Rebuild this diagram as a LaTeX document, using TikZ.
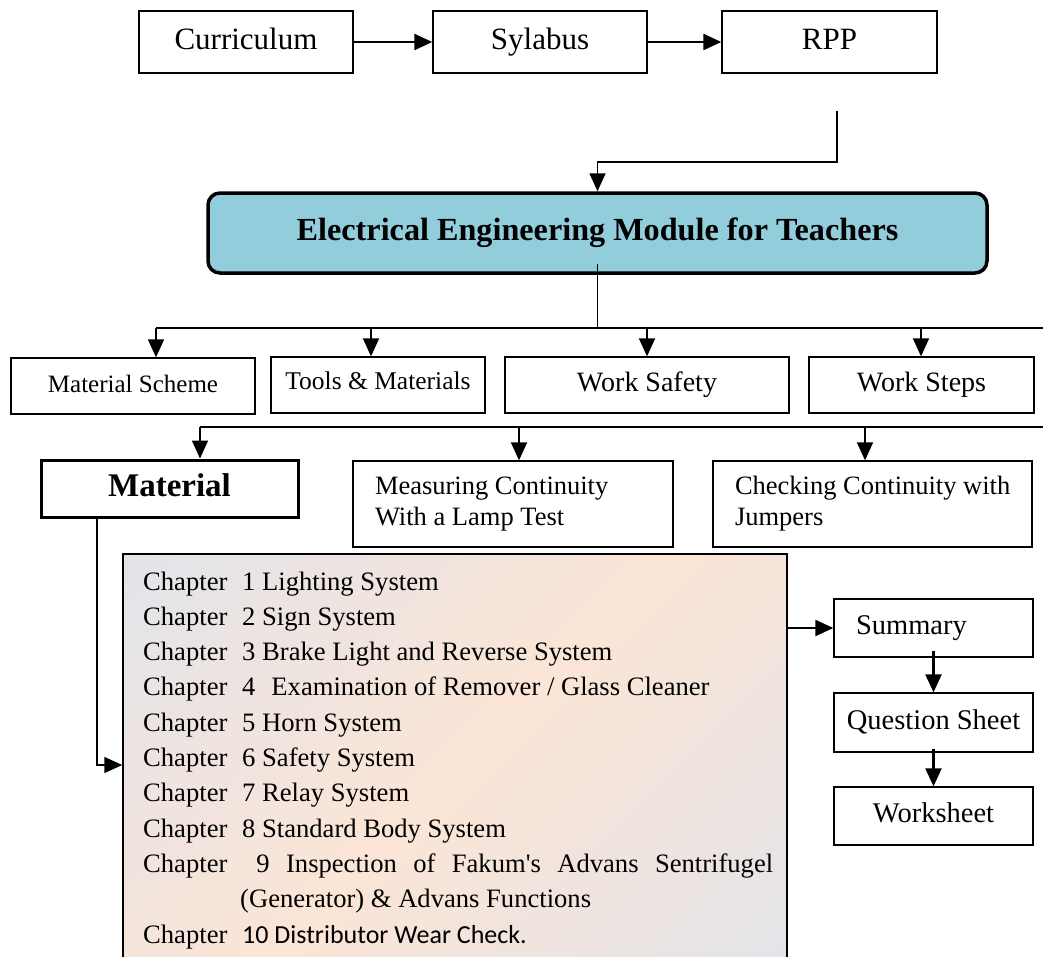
\documentclass[tikz,border=0pt]{standalone}
\usepackage{fontspec}
\setmainfont{Liberation Serif}
\newfontfamily\calibfont{Carlito}
\usetikzlibrary{arrows.meta}

\definecolor{modfill}{RGB}{146,205,220}
\definecolor{chblue}{RGB}{216,227,242}
\definecolor{chpeach}{RGB}{251,229,214}
\pgfdeclarehorizontalshading{chapshade}{100bp}{color(0bp)=(chblue); color(50bp)=(chpeach); color(100bp)=(chblue)}

\newcommand{\chfont}{\fontsize{26.6}{32}\selectfont}

\tikzset{
  box/.style={draw, line width=1.3pt, inner sep=0pt, align=center},
  % fixed text height and depth for a one-line label of size #1 pt
  oneline/.style={text height=#1*0.7pt, text depth=#1*0.22pt},
  conn/.style={line width=1.7pt},
  thinconn/.style={line width=1.2pt},
  arr/.style={conn, -{Triangle[length=18pt,width=16pt]}},
  bigarr/.style={line width=2.2pt, -{Triangle[length=18pt,width=16pt]}},
  chtxt/.style={anchor=base west, inner sep=0pt, font=\chfont},
}

\begin{document}
\begin{tikzpicture}[x=1pt,y=-1pt]
\useasboundingbox (0,0) rectangle (1043,956);
\clip (0,0) rectangle (1043,956);

% top row
\node[box, oneline=31, minimum width=214pt, minimum height=62pt, font=\fontsize{31}{36}\selectfont] (cur) at (246,42) {Curriculum};
\node[box, oneline=31, minimum width=214pt, minimum height=62pt, font=\fontsize{31}{36}\selectfont] (syl) at (540,42) {Sylabus};
\node[box, oneline=31, minimum width=215pt, minimum height=62pt, font=\fontsize{31}{36}\selectfont] (rpp) at (829.5,42) {RPP};

% module
\node[draw, oneline=32, line width=3.5pt, rounded corners=12pt, fill=modfill, minimum width=779pt, minimum height=80pt, inner sep=0pt,
      font=\fontsize{32.2}{38}\selectfont\bfseries] (mod) at (597.5,233) {Electrical Engineering Module for Teachers};

% second row
\node[box, oneline=25, minimum width=244pt, minimum height=56pt, font=\fontsize{25}{30}\selectfont] (ms) at (133,386) {Material Scheme};
\node[box, oneline=25, minimum width=214pt, minimum height=56pt, font=\fontsize{25.5}{30}\selectfont] (tm) at (378,385) {\raisebox{2pt}{Tools \& Materials}};
\node[box, oneline=28, minimum width=284pt, minimum height=56pt, font=\fontsize{28}{34}\selectfont] (ws) at (647,385) {Work Safety};
\node[box, oneline=28, minimum width=225pt, minimum height=56pt, font=\fontsize{28}{34}\selectfont] (wst) at (921.5,385) {Work Steps};

% third row
\node[box, oneline=33, line width=3pt, minimum width=257pt, minimum height=57pt, font=\fontsize{33}{38}\selectfont\bfseries] (mat) at (169.5,488.5) {Material};
\node[box, align=left, inner xsep=22pt, text width=276pt, minimum height=86pt, font=\fontsize{26.5}{31}\selectfont] (meas) at (513,504) {\spaceskip=0pt\relax Measuring Continuity\\With a Lamp Test};
\node[box, align=left, inner xsep=22pt, text width=275pt, minimum height=86pt, font=\fontsize{26.5}{31}\selectfont] (chk) at (872.5,504) {\spaceskip=0pt\relax\mbox{Checking Continuity with}\\Jumpers};

% chapter list box
\node[draw, line width=1.5pt, shading=chapshade, shading angle=-45, minimum width=664pt, minimum height=436pt, inner sep=0pt] (chap) at (455,772) {};

\foreach \k/\t in {0/{1 Lighting System}, 1/{2 Sign System}, 2/{3 Brake Light and Reverse System},
                   3/{4\hspace{0.6em}Examination of Remover / Glass Cleaner}, 4/{5 Horn System},
                   5/{6 Safety System}, 6/{7 Relay System}, 7/{8 Standard Body System}} {
  \node[chtxt] (cw\k) at (143,590+35.3*\k) {Chapter};
  \node[chtxt] (ct\k) at (242,590+35.3*\k) {\t};
}
\node[chtxt] (c9) at (143,872.4) {\makebox[630pt][s]{Chapter\hspace{29pt}9 Inspection of Fakum\textquotesingle s Advans Sentrifugel}};
\node[chtxt] (c9b) at (240,907.7) {(Generator) \& Advans Functions};
\node[chtxt] (cw10) at (143,943) {Chapter};
\node[chtxt, font=\fontsize{26}{31}\selectfont\calibfont] (ct10) at (242,943) {10 Distributor Wear Check.};

% right column
\node[box, oneline=28.5, align=left, inner xsep=22pt, text width=155pt, minimum height=58pt, font=\fontsize{28.5}{34}\selectfont] (sum) at (933.5,628) {Summary};
\node[box, oneline=28.5, minimum width=199pt, minimum height=59pt, font=\fontsize{28.5}{34}\selectfont] (qs) at (933.5,722.5) {Question Sheet};
\node[box, oneline=28.5, minimum width=199pt, minimum height=58pt, font=\fontsize{28.5}{34}\selectfont] (wk) at (933.5,816) {Worksheet};

% connectors: top row
\draw[bigarr] (cur) -- (syl);
\draw[bigarr] (syl) -- (rpp);
\coordinate (rppout) at (837,111);
\draw[arr] (rppout) -- ++(0,51) -| (mod.north);

% module to second row
\coordinate (b1L) at (156,328);
\coordinate (b1R) at (1043,328);
\draw[thinconn] ([yshift=11pt]mod.south) -- (mod.south |- b1L);
\draw[conn] (b1L) -- (b1R);
\coordinate (d1) at (156,328);
\coordinate (d2) at (371,328);
\coordinate (d3) at (647,328);
\coordinate (d4) at (921,328);
\draw[arr] (d1) -- (d1 |- ms.north);
\draw[arr] (d2) -- (d2 |- tm.north);
\draw[arr] (d3) -- (d3 |- ws.north);
\draw[arr] (d4) -- (d4 |- wst.north);

% second bus to third row
\coordinate (b2L) at (200,427);
\coordinate (b2R) at (1043,427);
\draw[conn] (b2L) -- (b2R);
\coordinate (e2) at (519,427);
\coordinate (e3) at (865,427);
\draw[arr] (b2L) -- (b2L |- mat.north);
\draw[arr] (e2) -- (e2 |- meas.north);
\draw[arr] (e3) -- (e3 |- chk.north);

% material to chapter list
\coordinate (mx) at (97,765);
\draw[arr] (mat.south -| mx) -- (mx) -- (mx -| chap.west);

% chapter list to right column
\draw[bigarr] (chap.east |- sum.west) -- (sum.west);
\draw[bigarr] ([yshift=7pt]sum.south) -- (qs.north);
\draw[bigarr] ([yshift=4pt]qs.south) -- (wk.north);
\end{tikzpicture}
\end{document}
